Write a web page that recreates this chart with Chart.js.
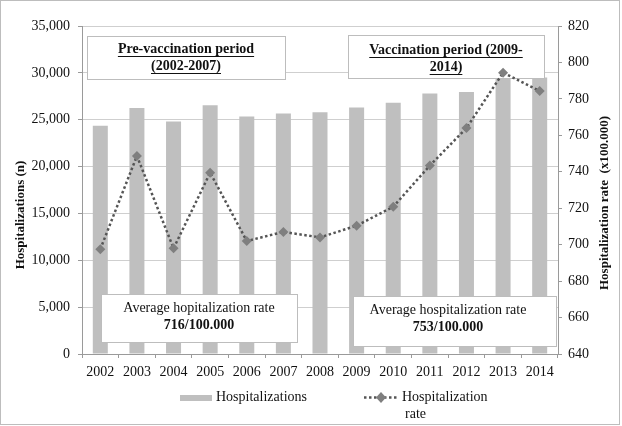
<!DOCTYPE html>
<html lang="en">
<head>
  <meta charset="UTF-8">
  <title>Hospitalizations</title>
  <script src="https://cdn.jsdelivr.net/npm/chart.js"></script>
  <style>
    body { margin: 0; background: #fff; }
    #wrap { width: 622px; height: 426px; }
  </style>
</head>
<body>
  <div id="wrap"><canvas id="hospChart" width="622" height="426"></canvas></div>

  <script>
    // data
    const years = ['2002', '2003', '2004', '2005', '2006', '2007', '2008', '2009', '2010', '2011', '2012', '2013', '2014'];
    const hospitalizations = [24350, 26250, 24800, 26550, 25350, 25650, 25800, 26300, 26800, 27800, 27950, 30100, 29500];
    const hospRate = [697.5, 748.7, 698, 739.5, 702, 707, 704, 710.4, 720.8, 743.4, 764, 794.4, 784.3];

    const periodTitles = [['Pre-vaccination period', '(2002-2007)'], ['Vaccination period (2009-', '2014)']];
    const averageNotes = [['Average hopitalization rate', '716/100.000'], ['Average hospitalization rate', '753/100.000']];

    const serif = '"Liberation Serif", "Times New Roman", serif';
    const barGrey = '#bfbfbf';
    const lineGrey = '#555555';
    const markerGrey = '#7f7f7f';

    function box(ctx, x1, y1, x2, y2) {
      ctx.save();
      ctx.fillStyle = '#fff';
      ctx.fillRect(x1, y1, x2 - x1, y2 - y1);
      ctx.strokeStyle = '#bdbdbd';
      ctx.lineWidth = 1;
      ctx.strokeRect(x1 + 0.5, y1 + 0.5, x2 - x1 - 1, y2 - y1 - 1);
      ctx.restore();
    }

    function textLine(ctx, str, cx, cy, bold, underline) {
      ctx.font = (bold ? 'bold ' : '') + '14px ' + serif;
      ctx.fillStyle = '#111';
      ctx.textAlign = 'center';
      ctx.textBaseline = 'middle';
      ctx.fillText(str, cx, cy);
      if (underline) {
        const w = ctx.measureText(str).width;
        ctx.fillRect(cx - w / 2, cy + 7, w, 1);
      }
    }

    // frame, annotation boxes, axis titles and legend
    const decor = {
      id: 'decor',
      beforeDraw(chart) {
        const ctx = chart.ctx;
        ctx.save();
        ctx.fillStyle = '#fff';
        ctx.fillRect(0, 0, chart.width, chart.height);
        ctx.strokeStyle = '#bdbdbd';
        ctx.strokeRect(0.5, 0.5, 619, 424);
        ctx.restore();
      },
      afterDatasetDraw(chart, args) {
        if (args.index !== 0) return;
        const ctx = chart.ctx;
        const a = chart.chartArea;
        ctx.save();
        // period boxes
        box(ctx, a.left + 5, a.top + 10, a.left + 204, a.top + 54);
        textLine(ctx, periodTitles[0][0], a.left + 104, a.top + 23, true, true);
        textLine(ctx, periodTitles[0][1], a.left + 104, a.top + 40, true, true);
        box(ctx, a.left + 266, a.top + 9, a.left + 463, a.top + 53);
        textLine(ctx, periodTitles[1][0], a.left + 364, a.top + 24, true, true);
        textLine(ctx, periodTitles[1][1], a.left + 364, a.top + 41, true, true);
        // average boxes
        box(ctx, a.left + 19, a.top + 268, a.left + 216, a.top + 317);
        textLine(ctx, averageNotes[0][0], a.left + 117, a.top + 282, false, false);
        textLine(ctx, averageNotes[0][1], a.left + 117, a.top + 299, true, false);
        box(ctx, a.left + 271, a.top + 270, a.right - 1, a.top + 321);
        textLine(ctx, averageNotes[1][0], a.left + 366, a.top + 284, false, false);
        textLine(ctx, averageNotes[1][1], a.left + 366, a.top + 301, true, false);
        ctx.restore();
      },
      afterDraw(chart) {
        const ctx = chart.ctx;
        ctx.save();
        // axis titles, both read bottom to top
        ctx.font = 'bold 13px ' + serif;
        ctx.fillStyle = '#111';
        ctx.textAlign = 'center';
        ctx.textBaseline = 'middle';
        ctx.translate(21, 215);
        ctx.rotate(-Math.PI / 2);
        ctx.fillText('Hospitalizations (n)', 0, 0);
        ctx.setTransform(1, 0, 0, 1, 0, 0);
        ctx.translate(605, 203);
        ctx.rotate(-Math.PI / 2);
        ctx.fillText('Hospitalization rate  (x100.000)', 0, 0);
        ctx.setTransform(1, 0, 0, 1, 0, 0);

        // legend
        ctx.font = '14px ' + serif;
        ctx.textAlign = 'left';
        ctx.fillStyle = barGrey;
        ctx.fillRect(180, 395, 32, 6);
        ctx.fillStyle = '#111';
        ctx.fillText('Hospitalizations', 216, 397);
        ctx.strokeStyle = lineGrey;
        ctx.lineWidth = 2.5;
        ctx.setLineDash([2.5, 2.5]);
        ctx.beginPath();
        ctx.moveTo(364, 397.5);
        ctx.lineTo(397, 397.5);
        ctx.stroke();
        ctx.setLineDash([]);
        ctx.fillStyle = markerGrey;
        ctx.beginPath();
        ctx.moveTo(381, 392); ctx.lineTo(386, 397.5); ctx.lineTo(381, 403); ctx.lineTo(376, 397.5);
        ctx.closePath();
        ctx.fill();
        ctx.fillStyle = '#111';
        ctx.fillText('Hospitalization', 402, 397);
        ctx.fillText('rate', 405, 414);
        ctx.restore();
      }
    };

    const ctx = document.getElementById('hospChart').getContext('2d');

    new Chart(ctx, {
      type: 'bar',
      data: {
        labels: years,
        datasets: [{
          type: 'bar',
          label: 'Hospitalizations',
          data: hospitalizations,
          backgroundColor: barGrey,
          yAxisID: 'y',
          barPercentage: 0.41,
          categoryPercentage: 1,
          order: 2
        }, {
          type: 'line',
          label: 'Hospitalization rate',
          data: hospRate,
          yAxisID: 'y2',
          borderColor: lineGrey,
          borderWidth: 2.5,
          borderDash: [2.5, 2.5],
          pointStyle: 'rectRot',
          pointRadius: 5,
          pointBackgroundColor: markerGrey,
          pointBorderColor: markerGrey,
          pointBorderWidth: 0,
          tension: 0,
          order: 1
        }]
      },
      options: {
        responsive: false,
        animation: false,
        layout: { padding: { top: 26, left: 0, right: 0, bottom: 0 } },
        plugins: {
          legend: { display: false },
          tooltip: { enabled: false }
        },
        scales: {
          x: {
            afterFit(s) { s.height = 72; },
            grid: { offset: true, drawOnChartArea: false, tickLength: 4, color: '#9a9a9a' },
            border: { color: '#9a9a9a' },
            ticks: { color: '#111', font: { family: serif, size: 14 }, padding: 6, maxRotation: 0 }
          },
          y: {
            position: 'left',
            min: 0,
            max: 35000,
            afterFit(s) { s.width = 82; },
            grid: { color: '#cfcfcf', tickLength: 4, tickColor: '#9a9a9a' },
            border: { color: '#9a9a9a' },
            ticks: {
              stepSize: 5000,
              color: '#111',
              font: { family: serif, size: 14 },
              padding: 8,
              callback: v => v.toLocaleString('en-US')
            }
          },
          y2: {
            position: 'right',
            min: 640,
            max: 820,
            afterFit(s) { s.width = 64; },
            grid: { drawOnChartArea: false, tickLength: 4, color: '#9a9a9a' },
            border: { color: '#9a9a9a' },
            ticks: { stepSize: 20, color: '#111', font: { family: serif, size: 14 }, padding: 6 }
          }
        }
      },
      plugins: [decor]
    });
  </script>
</body>
</html>
